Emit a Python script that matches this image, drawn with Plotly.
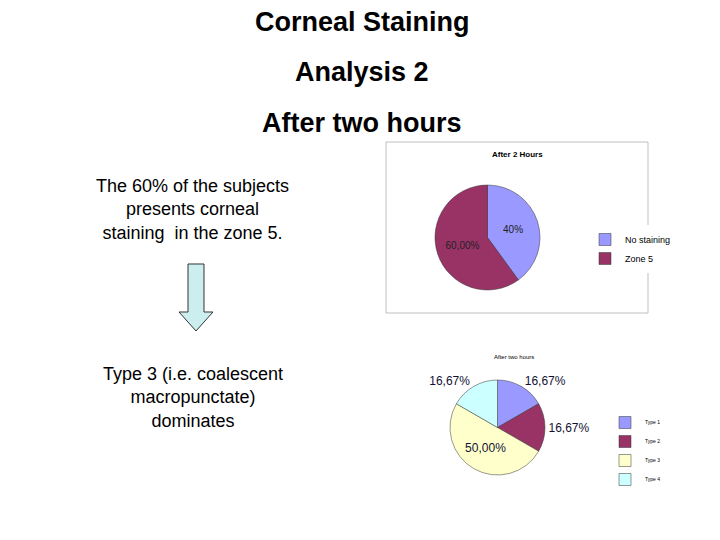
import plotly.graph_objects as go

# Data
labels1 = ["No staining", "Zone 5"]
values1 = [40, 60]
text1 = ["40%", "60,00%"]
labels2 = ["Type 1", "Type 2", "Type 3", "Type 4"]
values2 = [16.67, 16.67, 50.00, 16.67]
text2 = ["16,67%", "16,67%", "50,00%", "16,67%"]

W, H = 720, 540
OFF = 8  # page body margin


def px(x):
    return (x - OFF) / W


def py(y):
    return 1 - (y - OFF) / H


fig = go.Figure()

fig.add_trace(go.Pie(
    labels=labels1, values=values1, text=text1, textinfo="text",
    sort=False, direction="clockwise", rotation=0,
    marker=dict(colors=["#9999FF", "#993366"], line=dict(color="#333333", width=0.5)),
    textfont=dict(family="Liberation Sans", size=10, color="#222222"),
    insidetextorientation="horizontal",
    domain=dict(x=[px(435), px(540)], y=[py(290), py(185)]),
    legend="legend",
))

fig.add_trace(go.Pie(
    labels=labels2, values=values2, text=text2, textinfo="text",
    sort=False, direction="clockwise", rotation=0,
    marker=dict(colors=["#9999FF", "#993366", "#FFFFCC", "#CCFFFF"], line=dict(color="#333333", width=0.5)),
    textfont=dict(family="Liberation Sans", size=12, color="#111133"),
    insidetextorientation="horizontal",
    domain=dict(x=[px(450), px(545)], y=[py(475), py(380)]),
    legend="legend2",
))


def ann(text, x, y, size, **kw):
    return dict(text=text, x=px(x), y=py(y), xref="paper", yref="paper",
                xanchor="center", yanchor="middle", showarrow=False,
                font=dict(size=size, family="Liberation Sans", color="black"), **kw)


fig.update_layout(
    width=W, height=H,
    margin=dict(l=0, r=0, t=0, b=0),
    paper_bgcolor="white", plot_bgcolor="white",
    font=dict(family="Liberation Sans", color="black"),
    legend=dict(x=px(585), y=py(225), xanchor="left", yanchor="top",
                font=dict(size=9), bgcolor="white", borderwidth=0,
                itemwidth=30, tracegroupgap=0),
    legend2=dict(x=px(605), y=py(408), xanchor="left", yanchor="top",
                 font=dict(size=5), bgcolor="white", borderwidth=0),
    shapes=[
        dict(type="rect", xref="paper", yref="paper",
             x0=px(386), x1=px(648), y0=py(313), y1=py(142),
             line=dict(color="#C0C0C0", width=1)),
        dict(type="path", xref="paper", yref="paper",
             path="M %f %f L %f %f L %f %f L %f %f L %f %f L %f %f L %f %f Z" % (
                 px(188), py(264), px(204), py(264), px(204), py(312),
                 px(213), py(312), px(196), py(331), px(179), py(312),
                 px(188), py(312)),
             fillcolor="#CCEEEE", line=dict(color="#333333", width=1)),
    ],
    annotations=[
        ann("<b>Corneal Staining</b>", 362, 22, 27),
        ann("<b>Analysis 2</b>", 362, 72, 27),
        ann("<b>After two hours</b>", 362, 123, 27),
        ann("The 60% of the subjects<br>presents corneal<br>staining  in the zone 5.", 193, 210, 18),
        ann("Type 3 (i.e. coalescent<br>macropunctate)<br>dominates", 193, 397, 18),
        ann("<b>After 2 Hours</b>", 517, 154, 8),
        ann("After two hours", 514, 357, 6),
    ],
)

fig.write_html("out.html")
